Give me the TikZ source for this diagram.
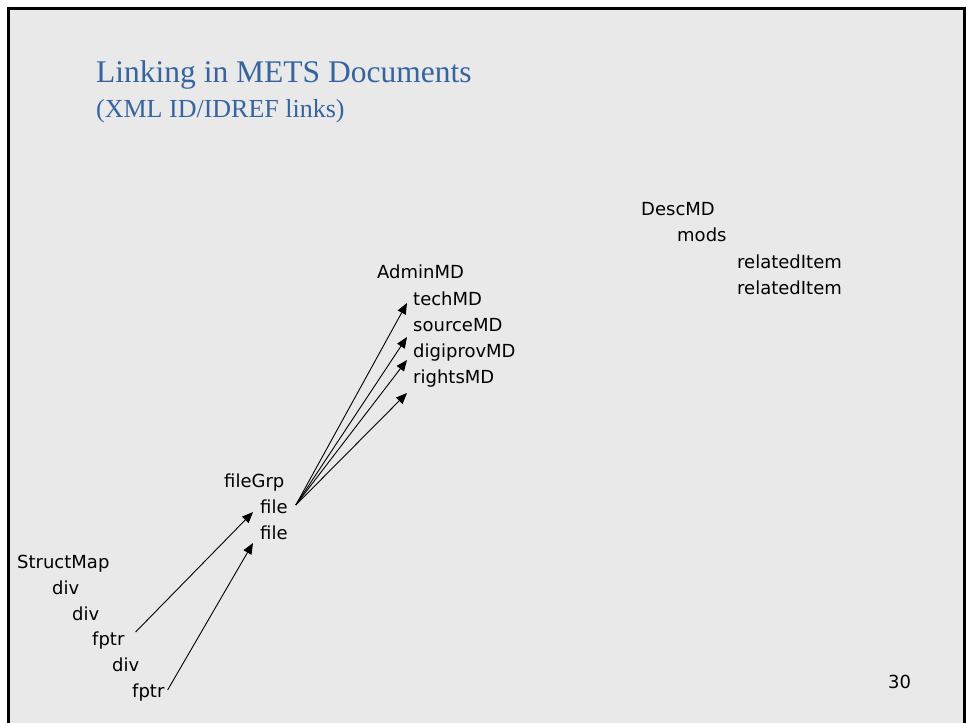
\documentclass[tikz,border=0pt]{standalone}
\usepackage{fontspec}
\setmainfont{Liberation Serif}
\newfontfamily\labelfont{DejaVu Sans}
\usetikzlibrary{arrows.meta}
\definecolor{slidebg}{RGB}{233,233,233}
\definecolor{titleblue}{RGB}{54,100,160}
\begin{document}
\begin{tikzpicture}[x=1pt,y=-1pt,
  lbl/.style={anchor=base west,inner sep=0pt,font=\labelfont\fontsize{18}{18}\selectfont},
  link/.style={-{Triangle[length=11pt,width=9pt]},line width=0.9pt}]
\useasboundingbox (0,0) rectangle (967,723);
% slide background and frame
\begin{scope}
  \clip (0,0) rectangle (967,723);
  \fill[white] (0,0) rectangle (967,723);
  \draw[line width=3pt,fill=slidebg] (8.5,8.5) rectangle (964.5,760);
\end{scope}

% heading
\node[anchor=base west,inner sep=0pt,text=titleblue,font=\fontsize{31.5}{31.5}\selectfont] (title) at (96,82) {Linking in METS Documents};
\node[anchor=base west,inner sep=0pt,text=titleblue,font=\fontsize{26}{26}\selectfont] (subtitle) at (96,117) {(XML ID/IDREF links)};

% structural map
\node[lbl] (smap)  at (17,568)  {StructMap};
\node[lbl] (div1)  at (52,594)  {div};
\node[lbl] (div2)  at (72,620)  {div};
\node[lbl] (fptr1) at (92,645)  {fptr};
\node[lbl] (div3)  at (112,671) {div};
\node[lbl] (fptr2) at (132,697) {fptr};

% file section
\node[lbl] (fgrp)  at (224,487) {fileGrp};
\node[lbl] (file1) at (260,513) {file};
\node[lbl] (file2) at (260,539) {file};

% administrative metadata
\node[lbl] (amd)    at (377,278) {AdminMD};
\node[lbl] (tech)   at (413,305) {techMD};
\node[lbl] (source) at (413,331) {sourceMD};
\node[lbl] (digi)   at (413,357) {digiprovMD};
\node[lbl] (rights) at (413,383) {rightsMD};

% descriptive metadata
\node[lbl] (dmd)   at (641,215) {DescMD};
\node[lbl] (mods)  at (677,241) {mods};
\node[lbl] (rel1)  at (737,268) {relatedItem};
\node[lbl] (rel2)  at (737,294) {relatedItem};

% page number
\node[lbl] (page) at (888,688) {30};

% links (shifts are in page orientation: positive yshift moves up)
\coordinate (hub) at ([xshift=8pt,yshift=8pt]file1.base east);
\draw[link] (hub) -- ([xshift=-6pt,yshift=2pt]tech.base west);
\draw[link] (hub) -- ([xshift=-6pt,yshift=-6pt]source.base west);
\draw[link] (hub) -- ([xshift=-6pt,yshift=-3pt]digi.base west);
\draw[link] (hub) -- ([xshift=-6pt,yshift=-10pt]rights.base west);

\draw[link] ([xshift=11pt,yshift=13pt]fptr1.base east) -- ([xshift=-7pt,yshift=1pt]file1.base west);
\draw[link] ([xshift=3pt,yshift=7pt]fptr2.base east) -- ([xshift=-7pt,yshift=-4pt]file2.base west);
\end{tikzpicture}
\end{document}
